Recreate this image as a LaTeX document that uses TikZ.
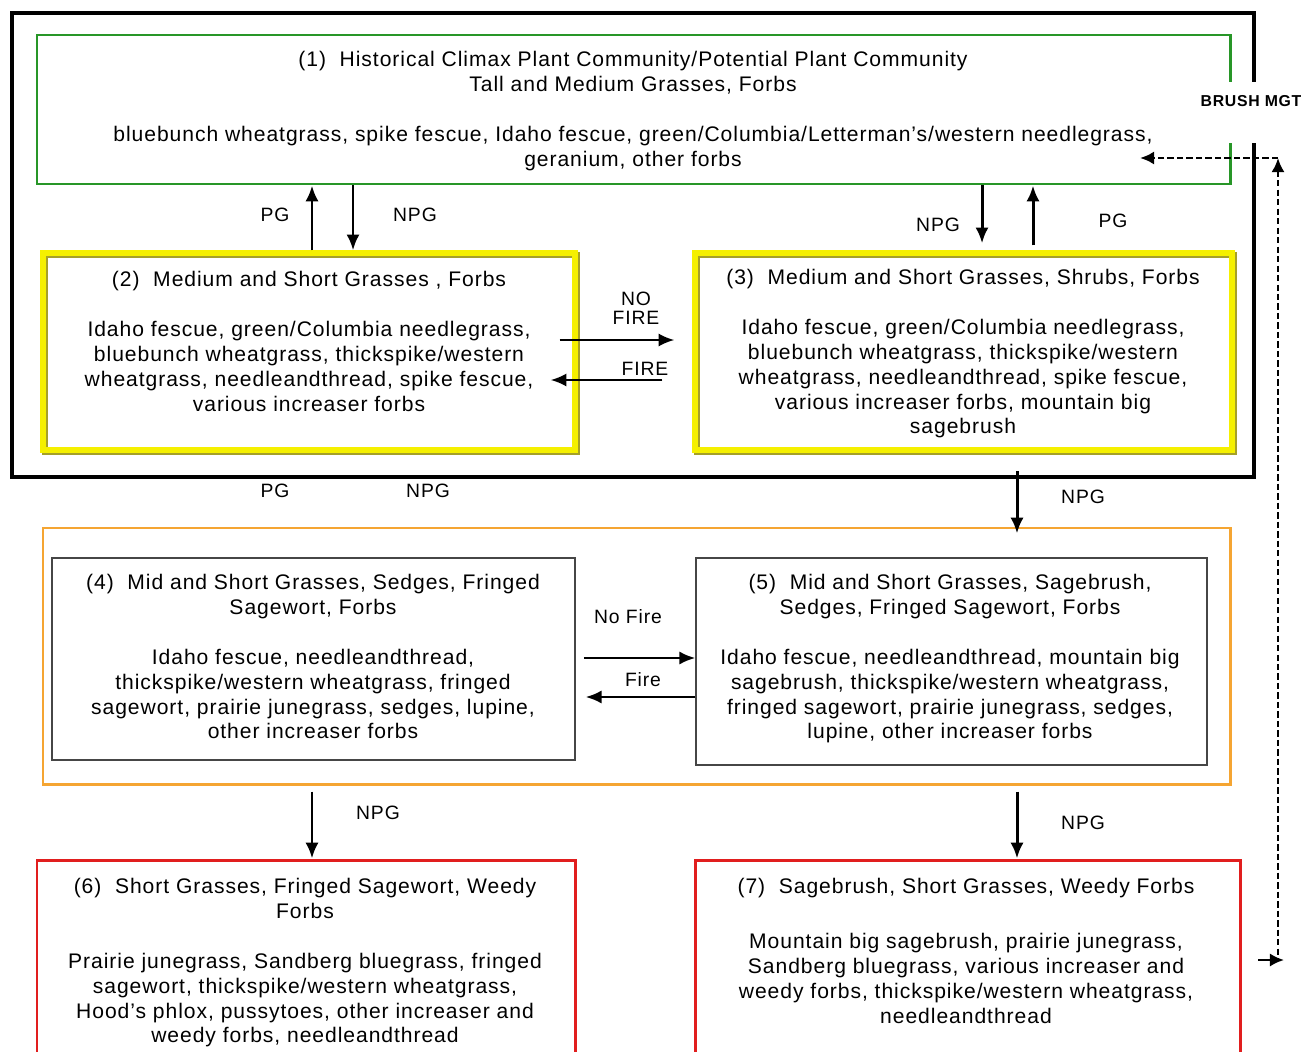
\documentclass[tikz,border=0pt]{standalone}
\usepackage{fontspec}
\setmainfont{Liberation Sans}[LetterSpace=4.5]
\usetikzlibrary{arrows.meta,calc,fit}
\definecolor{cgreen}{RGB}{40,150,40}
\definecolor{cyel}{RGB}{245,240,0}
\definecolor{cyeldk}{RGB}{165,160,40}
\definecolor{corange}{RGB}{245,165,50}
\definecolor{cred}{RGB}{225,30,30}
\definecolor{cgray}{RGB}{70,70,70}
\tikzset{
  rbox/.style={inner sep=0pt, draw},
  txt/.style={font=\fontsize{12}{14.2}\selectfont, align=center, inner sep=0pt, anchor=north},
  lbl/.style={font=\fontsize{11}{13}\selectfont, inner sep=0pt},
  varr/.style={line width=1.7pt, -{Latex[length=9pt,width=7.5pt]}},
  harr/.style={line width=1.3pt, -{Latex[length=9pt,width=7.5pt]}},
  dsh/.style={line width=1.6pt, dash pattern=on 3.6pt off 1.8pt},
}
\begin{document}
\begin{tikzpicture}[x=0.02cm,y=-0.02cm]
\useasboundingbox (0,0) rectangle (1301,1051);
\clip (0,0) rectangle (1301,1051);
% column / row helper coordinates
\coordinate (x312) at (312,0);
\coordinate (x353) at (353,0);
\coordinate (x982) at (982,0);
\coordinate (x1033) at (1033,0);
\coordinate (x1017) at (1017,0);
\coordinate (y340) at (0,340);
\coordinate (y380) at (0,380);
\coordinate (y658) at (0,658);
\coordinate (y697) at (0,697);

% outer black frame
\node[rbox, line width=2.1pt, fit={(12,13) (1254,477)}] (outer) {};
% box 1
\node[rbox, draw=cgreen, line width=1.7pt, fit={(37,35) (1230,184)}] (b1) {};
% yellow boxes with shadow
\draw[cyeldk, line width=3pt] (45,255) rectangle (577,452);
\node[rbox, draw=cyel, line width=3pt, fit={(43,253) (575,450)}] (b2) {};
\draw[cyeldk, line width=3pt] (697,255) rectangle (1234,452);
\node[rbox, draw=cyel, line width=3pt, fit={(695,253) (1232,450)}] (b3) {};
% orange group
\node[rbox, draw=corange, line width=1.7pt, fit={(43,528) (1230,784)}] (og) {};
\node[rbox, draw=cgray, line width=0.9pt, fit={(52,558) (575,760)}] (b4) {};
\node[rbox, draw=cgray, line width=0.9pt, fit={(696,558) (1207,765)}] (b5) {};
% red boxes
\node[rbox, draw=cred, line width=1.7pt, fit={(37,860) (575,1080)}] (b6) {};
\node[rbox, draw=cred, line width=1.7pt, fit={(695,860) (1240,1080)}] (b7) {};

% texts
\node[txt] (t1) at (633,51) {(1)\ \ Historical Climax Plant Community/Potential Plant Community\\
Tall and Medium Grasses, Forbs\\[14pt]
bluebunch wheatgrass, spike fescue, Idaho fescue, green/Columbia/Letterman's/western needlegrass,\\
geranium, other forbs};
\node[txt] (t2) at (309,271) {(2)\ \ Medium and Short Grasses , Forbs\\[14pt]
Idaho fescue, green/Columbia needlegrass,\\
bluebunch wheatgrass, thickspike/western\\
wheatgrass, needleandthread, spike fescue,\\
various increaser forbs};
\node[txt] (t3) at (963,269) {(3)\ \ Medium and Short Grasses, Shrubs, Forbs\\[14pt]
Idaho fescue, green/Columbia needlegrass,\\
bluebunch wheatgrass, thickspike/western\\
wheatgrass, needleandthread, spike fescue,\\
various increaser forbs, mountain big\\
sagebrush};
\node[txt] (t4) at (313,574) {(4)\ \ Mid and Short Grasses, Sedges, Fringed\\
Sagewort, Forbs\\[14pt]
Idaho fescue, needleandthread,\\
thickspike/western wheatgrass, fringed\\
sagewort, prairie junegrass, sedges, lupine,\\
other increaser forbs};
\node[txt] (t5) at (950,574) {(5)\ \ Mid and Short Grasses, Sagebrush,\\
Sedges, Fringed Sagewort, Forbs\\[14pt]
Idaho fescue, needleandthread, mountain big\\
sagebrush, thickspike/western wheatgrass,\\
fringed sagewort, prairie junegrass, sedges,\\
lupine, other increaser forbs};
\node[txt] (t6) at (305,878) {(6)\ \ Short Grasses, Fringed Sagewort, Weedy\\
Forbs\\[14pt]
Prairie junegrass, Sandberg bluegrass, fringed\\
sagewort, thickspike/western wheatgrass,\\
Hood's phlox, pussytoes, other increaser and\\
weedy forbs, needleandthread};
\node[txt] (t7) at (966,878) {(7)\ \ Sagebrush, Short Grasses, Weedy Forbs\\[17pt]
Mountain big sagebrush, prairie junegrass,\\
Sandberg bluegrass, various increaser and\\
weedy forbs, thickspike/western wheatgrass,\\
needleandthread};

% vertical arrows top
\draw[varr] (b2.north -| x312) -- (b1.south -| x312);
\draw[varr] (b1.south -| x353) -- (b2.north -| x353);
\draw[varr] (b1.south -| x982) -- ($(b3.north -| x982)+(0,-7)$);
\draw[varr] ($(b3.north -| x1033)+(0,-5)$) -- (b1.south -| x1033);
\node[lbl] (lpg1) at (275,215) {PG};
\node[lbl] (lnpg1) at (415,215) {NPG};
\node[lbl] (lnpg2) at (938,225) {NPG};
\node[lbl] (lpg2) at (1113,221) {PG};

% fire arrows top
\draw[harr] ($(b2.east |- y340)+(-18,0)$) -- ($(b3.west |- y340)+(-18,0)$);
\draw[harr] ($(b3.west |- y380)+(-30,0)$) -- ($(b2.east |- y380)+(-27,0)$);
\node[lbl, align=center] (lnofire1) at (636,308) {NO\\[-2pt]FIRE};
\node[lbl] (lfire1) at (645,369) {FIRE};

% middle labels
\node[lbl] (lpg3) at (275,491) {PG};
\node[lbl] (lnpg3) at (428,491) {NPG};
\draw[varr] ($(outer.south -| x1017)+(0,-8)$) -- ($(og.north -| x1017)+(0,7)$);
\node[lbl] (lnpg4) at (1083,497) {NPG};

% fire arrows bottom
\draw[harr] ($(b4.east |- y658)+(8,0)$) -- (b5.west |- y658);
\draw[harr] (b5.west |- y697) -- ($(b4.east |- y697)+(10,0)$);
\node[lbl] (lnofire2) at (628,617) {No Fire};
\node[lbl] (lfire2) at (643,680) {Fire};

% bottom arrows
\draw[varr] ($(og.south -| x312)+(0,6)$) -- (b6.north -| x312);
\draw[varr] ($(og.south -| x1017)+(0,6)$) -- (b7.north -| x1017);
\node[lbl] (lnpg5) at (378,813) {NPG};
\node[lbl] (lnpg6) at (1083,823) {NPG};

% brush management
\node[font=\fontsize{9}{11}\selectfont\bfseries, fill=white, inner xsep=3pt, inner ysep=0pt,
      text height=0.5cm, text depth=0.72cm, anchor=base] (lbm) at (1251,107) {BRUSH MGT};
\coordinate (bmA) at (1140,158);
\coordinate (bmC) at (1278,158);
\coordinate (bmB) at (1278,960);
\coordinate (bmD) at (1258,960);
\coordinate (bmE) at (1284,960);
\draw[dsh, -{Latex[length=8pt,width=7.5pt]}] (bmC) -- (bmA);
\draw[dsh, {Latex[length=8pt,width=7.5pt]}-] (bmC) -- (bmB);
\draw[line width=1.4pt, -{Latex[length=8pt,width=7.5pt]}] (bmD) -- (bmE);
\end{tikzpicture}
\end{document}
